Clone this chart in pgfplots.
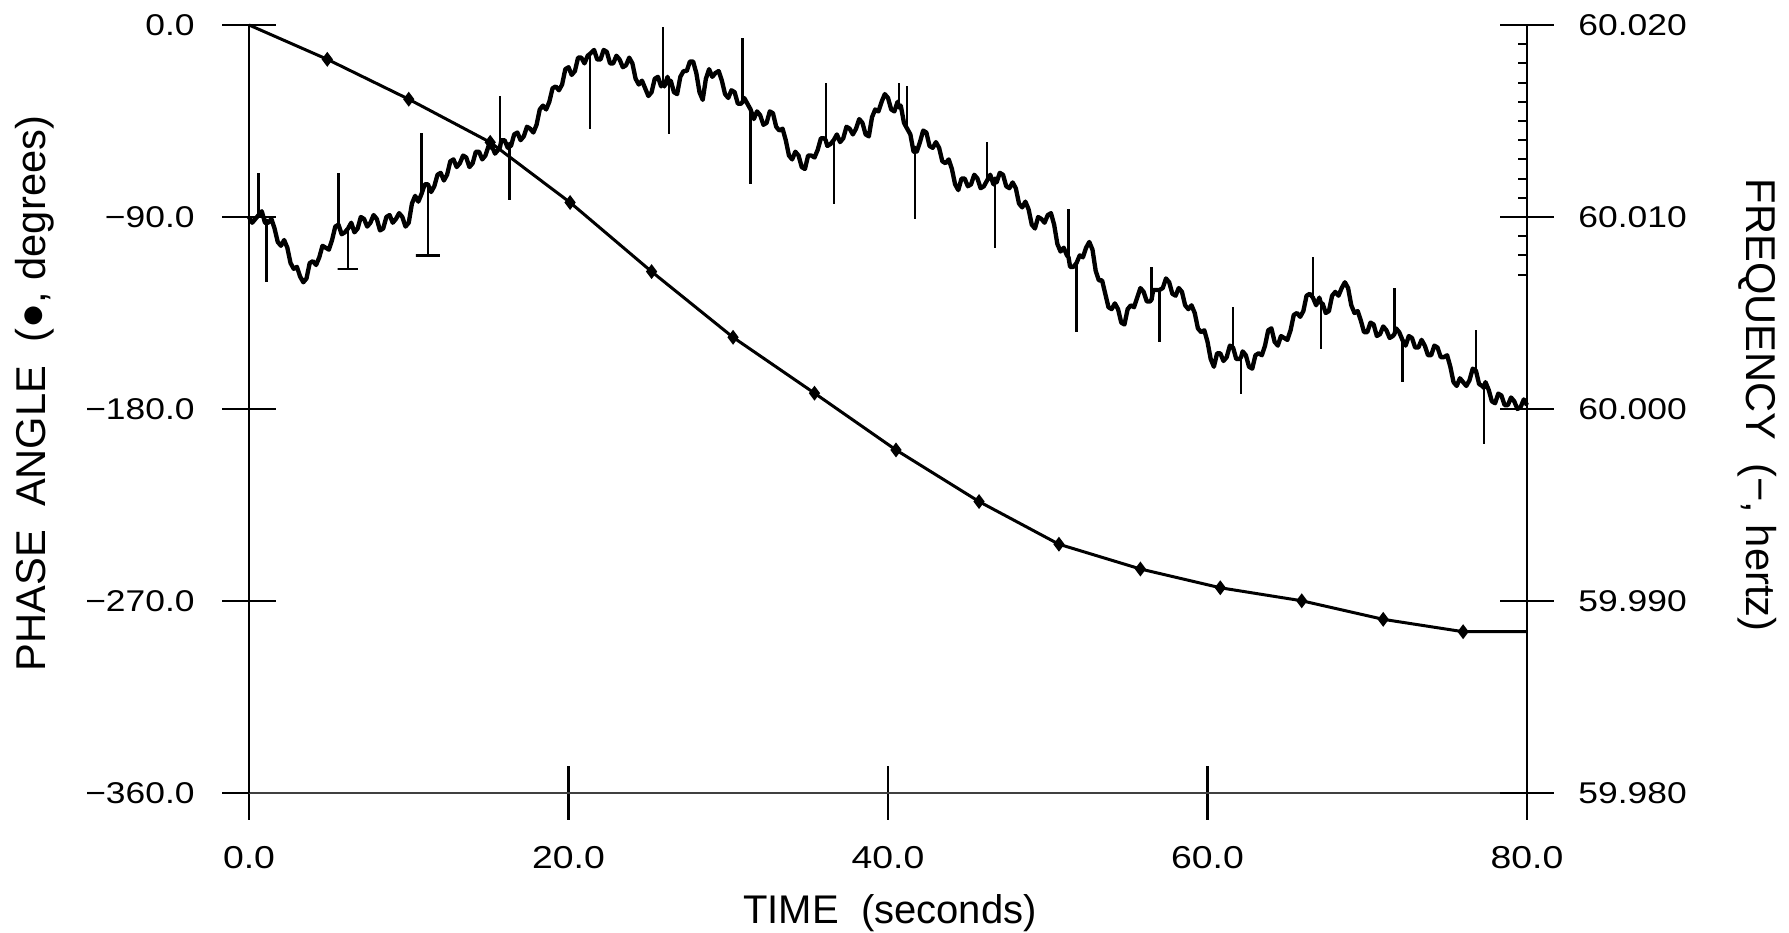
\documentclass[border=0pt]{standalone}
\usepackage{fontspec}
\setmainfont{Liberation Sans}
\newfontfamily\tickfont[FakeStretch=1.18]{Liberation Sans}
\usepackage{pgfplots}
\usepackage{pgfplotstable}
\pgfplotsset{compat=1.18}

% phase angle (degrees) vs time (s)
\pgfplotstableread{
t phase
0.0 0.0
4.9 -16.1
10.0 -34.8
15.1 -55.0
20.1 -83.2
25.2 -115.6
30.3 -146.4
35.4 -172.6
40.5 -199.2
45.7 -223.4
50.7 -243.4
55.8 -255.0
60.8 -263.8
65.9 -269.9
71.0 -278.6
76.0 -284.4
80.0 -284.4
}\phasedata

% frequency deviation from 60 Hz, in mHz (60.010 Hz -> 10.0)
\pgfplotstableread{
t dmHz
0.0 10.0
0.2 9.7
0.4 9.9
0.6 10.1
0.8 10.3
1.0 9.7
1.1 9.8
1.2 9.7
1.4 9.9
1.6 9.4
1.8 8.7
2.0 8.5
2.2 8.8
2.4 8.4
2.6 7.6
2.8 7.3
3.0 7.4
3.2 6.9
3.4 6.6
3.6 6.8
3.8 7.6
4.0 7.7
4.2 7.5
4.4 7.9
4.6 8.5
4.8 8.4
5.0 8.3
5.2 8.8
5.4 9.5
5.6 9.6
5.8 9.1
6.0 9.2
6.2 9.4
6.4 9.7
6.6 9.2
6.8 9.4
7.0 10.0
7.2 9.9
7.4 9.5
7.6 9.7
7.8 10.1
8.0 9.9
8.2 9.3
8.4 9.4
8.6 10.0
8.8 10.1
9.0 9.7
9.2 9.9
9.4 10.2
9.6 10.0
9.8 9.5
10.0 9.7
10.2 10.7
10.4 11.1
10.6 10.8
10.8 11.2
11.0 11.7
11.2 11.7
11.4 11.3
11.6 11.6
11.8 12.2
12.0 12.3
12.2 11.9
12.4 12.2
12.6 12.9
12.8 13.0
13.0 12.6
13.2 12.8
13.4 13.2
13.6 13.1
13.8 12.6
14.0 12.8
14.2 13.4
14.4 13.4
14.6 13.0
14.8 13.2
15.0 13.7
15.2 13.7
15.4 13.3
15.6 13.5
15.7 13.6
15.8 14.0
16.0 14.0
16.2 13.6
16.3 13.8
16.4 13.7
16.6 14.3
16.8 14.4
17.0 14.0
17.2 14.2
17.4 14.7
17.6 14.6
17.8 14.4
18.0 14.8
18.2 15.6
18.4 15.8
18.6 15.6
18.8 16.0
19.0 16.7
19.2 16.8
19.4 16.6
19.6 16.9
19.8 17.7
20.0 17.8
20.2 17.4
20.4 17.6
20.6 18.3
20.8 18.3
21.0 18.0
21.2 18.4
21.35 18.5
21.6 18.7
21.8 18.2
22.0 18.2
22.2 18.7
22.4 18.6
22.6 18.0
22.8 18.0
23.0 18.4
23.2 18.2
23.4 17.8
23.6 17.9
23.8 18.3
24.0 18.0
24.2 17.2
24.4 16.9
24.6 17.1
24.8 16.7
25.0 16.3
25.2 16.5
25.4 17.2
25.6 17.3
25.8 16.8
25.9 17.0
26.0 16.8
26.2 17.3
26.3 16.9
26.4 17.1
26.6 16.5
26.8 16.4
27.0 17.3
27.2 17.6
27.4 17.6
27.6 18.1
27.8 18.1
28.0 17.5
28.2 16.5
28.4 16.1
28.6 17.2
28.8 17.7
29.0 17.3
29.2 17.5
29.4 17.6
29.6 17.1
29.8 16.4
30.0 16.2
30.2 16.6
30.4 16.5
30.6 15.9
30.8 15.9
30.9 16.0
31.0 16.2
31.2 15.9
31.4 15.6
31.6 15.1
31.8 15.5
32.0 15.3
32.2 14.8
32.4 14.9
32.6 15.5
32.8 15.4
33.0 14.7
33.2 14.5
33.4 14.6
33.6 14.0
33.8 13.2
34.0 13.0
34.2 13.4
34.4 13.2
34.6 12.6
34.8 12.5
35.0 13.2
35.2 13.2
35.4 13.1
35.6 13.5
35.8 14.1
36.0 14.1
36.1 14.0
36.2 13.7
36.4 13.8
36.6 14.0
36.8 14.3
37.0 13.9
37.2 14.1
37.4 14.7
37.6 14.6
37.8 14.3
38.0 14.6
38.2 15.1
38.4 14.9
38.6 14.3
38.8 14.2
39.0 15.2
39.2 15.6
39.4 15.5
39.6 16.0
39.8 16.4
40.0 16.2
40.2 15.6
40.4 15.5
40.6 16.0
40.7 15.7
40.8 15.8
41.0 14.9
41.2 14.6
41.4 14.3
41.6 13.4
41.7 13.6
41.8 13.4
42.0 13.9
42.2 14.5
42.4 14.4
42.6 13.7
42.8 13.6
43.0 13.9
43.2 13.6
43.4 12.9
43.6 12.8
43.8 13.0
44.0 12.5
44.2 11.7
44.4 11.4
44.6 12.0
44.8 12.0
45.0 11.6
45.2 11.7
45.4 12.2
45.6 12.0
45.8 11.5
46.0 11.6
46.2 11.9
46.4 12.2
46.6 11.7
46.7 12.0
46.8 11.8
47.0 12.3
47.2 12.2
47.4 11.6
47.6 11.5
47.8 11.8
48.0 11.5
48.2 10.7
48.4 10.5
48.6 10.8
48.8 10.4
49.0 9.6
49.2 9.4
49.4 10.0
49.6 9.9
49.8 9.7
50.0 10.1
50.2 10.2
50.4 9.6
50.6 8.6
50.8 8.2
51.0 8.4
51.2 8.0
51.3 7.9
51.4 7.4
51.6 7.4
51.8 7.6
52.0 8.0
52.2 7.9
52.4 8.4
52.6 8.7
52.8 8.3
53.0 7.2
53.2 6.7
53.4 6.7
53.6 6.0
53.8 5.3
54.0 5.2
54.2 5.5
54.4 5.2
54.6 4.5
54.8 4.4
55.0 5.2
55.2 5.4
55.4 5.3
55.6 5.8
55.8 6.3
56.0 6.1
56.2 5.6
56.4 5.6
56.5 5.7
56.6 6.2
56.8 6.2
57.0 6.2
57.2 6.3
57.4 6.8
57.6 6.6
57.8 6.0
58.0 5.9
58.2 6.3
58.4 6.1
58.6 5.4
58.8 5.2
59.0 5.4
59.2 5.0
59.4 4.2
59.6 4.0
59.8 4.1
60.0 3.5
60.2 2.6
60.4 2.2
60.6 2.9
60.8 2.9
61.0 2.5
61.2 2.7
61.4 3.3
61.6 3.2
61.8 2.6
62.0 2.6
62.1 2.7
62.2 3.0
62.4 2.8
62.6 2.2
62.8 2.1
63.0 2.8
63.2 2.9
63.4 2.8
63.6 3.3
63.8 4.1
64.0 4.2
64.2 3.5
64.4 3.3
64.6 3.8
64.8 3.7
65.0 3.6
65.2 4.1
65.4 4.9
65.6 5.0
65.8 4.8
66.0 5.1
66.2 5.9
66.4 6.0
66.6 5.8
66.8 5.4
67.0 5.8
67.1 5.5
67.2 5.5
67.4 5.0
67.6 5.1
67.8 5.9
68.0 6.1
68.2 5.9
68.4 6.3
68.6 6.6
68.8 6.3
69.0 5.4
69.2 5.0
69.4 5.1
69.6 4.6
69.8 4.0
70.0 4.0
70.2 4.5
70.4 4.4
70.6 3.8
70.8 3.9
71.0 4.3
71.2 4.1
71.4 3.7
71.6 3.8
71.7 3.9
71.8 4.2
72.0 4.0
72.2 3.6
72.4 3.3
72.6 3.8
72.8 3.7
73.0 3.2
73.2 3.2
73.4 3.6
73.6 3.3
73.8 2.8
74.0 2.8
74.2 3.3
74.4 3.2
74.6 2.7
74.8 2.7
75.0 2.8
75.2 2.2
75.4 1.4
75.6 1.2
75.8 1.6
76.0 1.4
76.2 1.2
76.4 1.5
76.6 2.1
76.8 2.0
77.0 1.3
77.2 1.2
77.3 1.1
77.4 1.4
77.6 1.0
77.8 0.4
78.0 0.3
78.2 0.8
78.4 0.7
78.6 0.2
78.8 0.2
79.0 0.6
79.2 0.4
79.4 0.0
79.6 0.1
79.8 0.5
80.0 0.2
}\freqdata

% short frequency spikes (mHz), one segment each
\pgfplotstableread{
t dmHz
0.6 10.1
0.6 12.3
0.6 nan
1.1 9.8
1.1 6.6
1.1 nan
5.6 9.6
5.6 12.3
5.6 nan
6.2 9.4
6.2 7.3
5.55 7.3
6.85 7.3
6.85 nan
10.8 11.2
10.8 14.4
10.8 nan
11.2 11.7
11.2 8.0
10.45 8.0
11.95 8.0
11.95 nan
15.7 13.6
15.7 16.3
15.7 nan
16.3 13.8
16.3 10.9
16.3 nan
21.35 18.5
21.35 14.6
21.35 nan
25.9 17.0
25.9 19.9
25.9 nan
26.3 16.9
26.3 14.3
26.3 nan
30.9 16.0
30.9 19.3
30.9 nan
31.4 15.6
31.4 11.7
31.4 nan
36.1 14.0
36.1 17.0
36.1 nan
36.6 14.0
36.6 10.7
36.6 nan
40.7 15.7
40.7 17.0
40.7 nan
41.2 14.6
41.2 16.8
41.2 nan
41.7 13.6
41.7 9.9
41.7 nan
46.2 11.9
46.2 13.9
46.2 nan
46.7 12.0
46.7 8.4
46.7 nan
51.3 7.9
51.3 10.4
51.3 nan
51.8 7.6
51.8 4.0
51.8 nan
56.5 5.7
56.5 7.4
56.5 nan
57.0 6.2
57.0 3.5
57.0 nan
61.6 3.2
61.6 5.3
61.6 nan
62.1 2.7
62.1 0.8
62.1 nan
66.6 5.8
66.6 7.9
66.6 nan
67.1 5.5
67.1 3.1
67.1 nan
71.7 3.9
71.7 6.3
71.7 nan
72.2 3.6
72.2 1.4
72.2 nan
76.8 2.0
76.8 4.1
76.8 nan
77.3 1.1
77.3 -1.8
}\spikedata

\begin{document}
\begin{tikzpicture}
\pgfplotsset{
  common/.style={
    scale only axis, width=383.4pt, height=230.4pt,
    xmin=0, xmax=80, clip=false,
    tick align=center, major tick length=16pt,
    tick style={black, line width=0.7pt},
    x tick label style={font=\tickfont\fontsize{9.5}{11}\selectfont},
    y tick label style={font=\tickfont\fontsize{9}{11}\selectfont},
    label style={font=\fontsize{12.5}{15}\selectfont},
    /pgf/number format/assume math mode=true,
  }
}
\begin{axis}[common, name=ax,
  ymin=-360, ymax=0,
  axis x line*=bottom, axis y line*=left,
  x axis line style={-, line width=0.5pt, black!75},
  y axis line style={-, line width=0.8pt},
  xtick={0,20,40,60,80}, xticklabels={0.0,20.0,40.0,60.0,80.0},
  xticklabel shift=4.5pt,
  ytick={-360,-270,-180,-90,0}, yticklabels={−360.0,−270.0,−180.0,−90.0,0.0},
  yticklabel shift=4.8pt,
  xlabel={TIME\ \ (seconds)},
  ylabel={PHASE\ \ ANGLE\ \ (●,\ degrees)},
  xlabel style={font=\fontsize{12}{14}\selectfont, at={(axis description cs:0.5016,-0.157)}, anchor=center},
  ylabel style={at={(axis description cs:-0.168,0.52)}, anchor=center},
]
\addplot[black, line width=0.9pt, mark=diamond*, mark size=1.5pt,
  mark indices={2,3,4,5,6,7,8,9,10,11,12,13,14,15,16}] table[x=t,y=phase]{\phasedata};
\end{axis}
\begin{axis}[common,
  ymin=-20, ymax=20,
  axis x line=none, axis y line*=right,
  y axis line style={-, line width=0.8pt},
  ytick={-20,-10,0,10,20}, yticklabels={59.980,59.990,60.000,60.010,60.020},
  yticklabel shift=3.9pt,
  minor ytick={7,8,9,11,12,13,14,15,16,17,18,19},
  minor tick length=2.6pt,
  minor tick style={xshift=-1.3pt, line width=0.6pt},
  ylabel={FREQUENCY\ \ (−,\ hertz)},
  ylabel style={at={(axis description cs:1.180,0.505)}, anchor=center, rotate=180},
]
\addplot[black, line width=1.3pt, line join=round] table[x=t,y=dmHz]{\freqdata};
\addplot[black, line width=0.7pt, unbounded coords=jump] table[x=t,y=dmHz]{\spikedata};
\end{axis}
\pgfresetboundingbox
\path ([shift={(-74.7pt,-42pt)}]ax.south west) rectangle ([shift={(78.6pt,7.5pt)}]ax.north east);
\end{tikzpicture}
\end{document}
